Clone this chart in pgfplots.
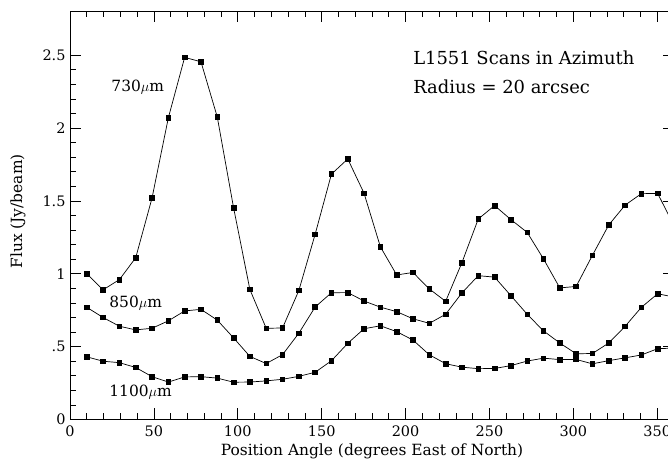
\documentclass[border=0pt]{standalone}
\usepackage{pgfplots}
\pgfplotsset{compat=1.18}
\usepackage{pgfplotstable}
\usepackage{fontspec}
\setmainfont{DejaVu Serif}
\pgfplotstableread{
x a b c
10.00 1.00 0.77 0.43
19.72 0.89 0.70 0.40
29.44 0.96 0.64 0.39
39.17 1.11 0.615 0.357
48.89 1.52 0.626 0.294
58.61 2.07 0.677 0.257
68.33 2.485 0.745 0.292
78.06 2.455 0.756 0.294
87.78 2.076 0.682 0.284
97.50 1.453 0.560 0.256
107.22 0.892 0.433 0.257
116.94 0.626 0.384 0.265
126.67 0.628 0.445 0.276
136.39 0.885 0.592 0.296
146.11 1.271 0.772 0.324
155.83 1.684 0.870 0.403
165.56 1.788 0.871 0.523
175.28 1.552 0.813 0.623
185.00 1.185 0.771 0.643
194.72 0.992 0.740 0.603
204.44 1.009 0.691 0.545
214.17 0.896 0.660 0.444
223.89 0.811 0.722 0.383
233.61 1.077 0.869 0.359
243.33 1.376 0.987 0.349
253.06 1.468 0.977 0.350
262.78 1.372 0.850 0.370
272.50 1.284 0.722 0.401
282.22 1.102 0.608 0.421
291.94 0.903 0.525 0.411
301.67 0.913 0.451 0.412
311.39 1.127 0.453 0.382
321.11 1.335 0.525 0.404
330.83 1.471 0.639 0.423
340.56 1.550 0.770 0.443
350.28 1.551 0.863 0.486
360.00 1.33 0.84 0.49
}\datatable
\tikzset{ser/.style={black, line width=0.7bp, mark=square*, mark size=2.3bp, mark options={solid, fill=black}}}
\begin{document}
\begin{tikzpicture}
\begin{axis}[
  scale only axis,
  width=604bp, height=408bp,
  xmin=0, xmax=360, ymin=0, ymax=2.8,
  axis line style={line width=0.8bp},
  xtick={0,50,...,350},
  minor x tick num=4,
  ytick={0,0.5,1,1.5,2,2.5},
  yticklabels={0,.5,1,1.5,2,2.5},
  minor y tick num=4,
  tick align=inside,
  major tick length=11bp,
  minor tick length=6bp,
  tick style={black, line width=0.7bp},
  /pgf/number format/assume math mode=true,
  ticklabel style={font=\fontsize{14.5}{17}\selectfont},
  xticklabel style={yshift=-3bp},
  yticklabel style={xshift=-1bp},
  xlabel={Position Angle (degrees East of North)},
  ylabel={Flux (Jy/beam)},
  every axis x label/.style={at={(axis description cs:0.5,-0.0775)}, anchor=center, font=\fontsize{15.5}{18}\selectfont},
  every axis y label/.style={at={(axis description cs:-0.0861,0.51)}, anchor=center, rotate=90, font=\fontsize{15.5}{18}\selectfont},
  clip=false,
]
\addplot[ser] table[x=x,y=a] {\datatable};
\addplot[ser] table[x=x,y=b] {\datatable};
\addplot[ser] table[x=x,y=c] {\datatable};
\node[anchor=west, font=\fontsize{15.5}{18}\selectfont] at (axis cs:22.6,2.28) {730$\mu$m};
\node[anchor=west, font=\fontsize{15.5}{18}\selectfont] at (axis cs:21.4,0.80) {850$\mu$m};
\node[anchor=west, font=\fontsize{15.5}{18}\selectfont] at (axis cs:21.4,0.19) {1100$\mu$m};
\node[anchor=west, font=\fontsize{18}{21}\selectfont] at (axis cs:202.5,2.48) {L1551 Scans in Azimuth};
\node[anchor=west, font=\fontsize{18}{21}\selectfont] at (axis cs:202.5,2.285) {Radius = 20 arcsec};
\end{axis}
\pgfresetboundingbox
\path[use as bounding box] (-70bp,-40.5bp) rectangle (598bp,419.5bp);
\end{tikzpicture}
\end{document}
